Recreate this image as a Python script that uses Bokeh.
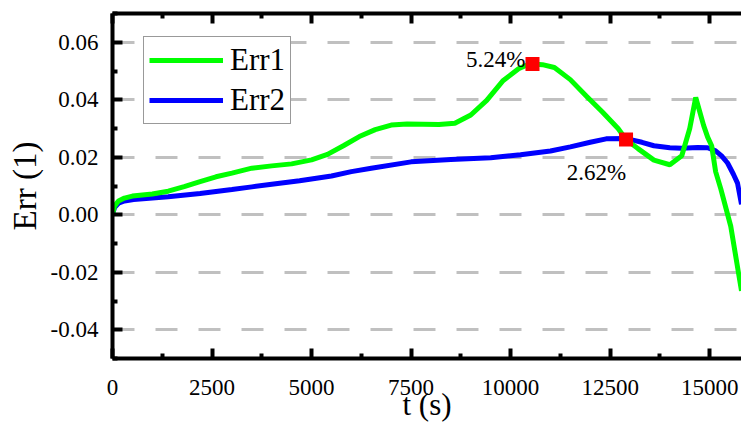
from bokeh.plotting import figure
from bokeh.models import (ColumnDataSource, FixedTicker, LinearAxis, Legend, LegendItem,
                          NumeralTickFormatter, CustomJSTickFormatter)
from bokeh.core.properties import value
from bokeh.embed import file_html
from bokeh.resources import INLINE

# ---- data ----
t1 = [0, 50, 150, 300, 500, 1000, 1400, 1800, 2200, 2600, 3000, 3500, 4000, 4500, 5000,
      5400, 5800, 6200, 6600, 7000, 7400, 7800, 8200, 8600, 9000, 9400, 9800, 10200,
      10400, 10550, 10800, 11100, 11500, 11900, 12300, 12700, 12900, 13200, 13600, 14000,
      14300, 14500, 14650, 14850, 14950, 15050, 15150, 15280, 15530, 15800]
err1 = [0.0, 0.0030, 0.0048, 0.0058, 0.0065, 0.0072, 0.0082, 0.0098, 0.0115, 0.0132,
        0.0145, 0.0162, 0.0170, 0.0177, 0.0191, 0.0210, 0.0240, 0.0272, 0.0296, 0.0312,
        0.0316, 0.0315, 0.0314, 0.0318, 0.0347, 0.0398, 0.0465, 0.0508, 0.0520, 0.0524,
        0.0522, 0.0512, 0.0470, 0.0413, 0.0358, 0.0300, 0.0262, 0.0230, 0.0190, 0.0174,
        0.0205, 0.0300, 0.0408, 0.0310, 0.0270, 0.0240, 0.0150, 0.0090, -0.0040, -0.0265]

t2 = [0, 50, 150, 300, 530, 1400, 2200, 3000, 3500, 4000, 4700, 5500, 6000, 6500, 7500,
      8500, 9500, 10250, 11000, 11500, 12000, 12400, 12900, 13300, 13600, 14000, 14300,
      14700, 14950, 15150, 15300, 15450, 15600, 15700, 15800]
err2 = [0.0, 0.0025, 0.0040, 0.0048, 0.0053, 0.0063, 0.0074, 0.0088, 0.0097, 0.0106,
        0.0118, 0.0135, 0.0150, 0.0162, 0.0184, 0.0192, 0.0198, 0.0209, 0.0222, 0.0236,
        0.0252, 0.0264, 0.0265, 0.0252, 0.0240, 0.0233, 0.0231, 0.0234, 0.0233, 0.0222,
        0.0205, 0.0180, 0.0140, 0.0110, 0.0036]

mark_t = [10550, 12900]
mark_v = [0.0524, 0.0262]
mark_labels = ["5.24%", "2.62%"]

x_ticks = [0, 2500, 5000, 7500, 10000, 12500, 15000]
x_minor = [1250, 3750, 6250, 8750, 11250, 13750]
y_ticks = [-0.04, -0.02, 0.0, 0.02, 0.04, 0.06]
y_minor = [-0.05, -0.03, -0.01, 0.01, 0.03, 0.05, 0.07]

FONT = "Liberation Serif"

p = figure(width=741, height=424, x_range=(0, 15800), y_range=(-0.05, 0.07),
           output_backend="svg", toolbar_location=None,
           min_border_left=112, min_border_right=0, min_border_top=13, min_border_bottom=64)
p.outline_line_color = None
p.background_fill_color = "white"
p.border_fill_color = "white"

xt = FixedTicker(ticks=x_ticks, minor_ticks=x_minor)
yt = FixedTicker(ticks=y_ticks, minor_ticks=y_minor)

def style_axis(ax):
    ax.axis_line_width = 4
    ax.axis_line_color = "black"
    ax.major_tick_in = 10
    ax.major_tick_out = 0
    ax.major_tick_line_width = 4
    ax.minor_tick_in = 5
    ax.minor_tick_out = 0
    ax.minor_tick_line_width = 4
    ax.major_label_text_font = FONT
    ax.major_label_text_font_size = "23px"
    ax.major_label_text_color = "black"
    ax.axis_label_text_font = FONT
    ax.axis_label_text_font_size = "31px"
    ax.axis_label_text_font_style = "normal"
    ax.axis_label_text_color = "black"

xa = p.xaxis[0]
xa.ticker = xt
style_axis(xa)
xa.axis_label = "t (s)"
xa.major_label_standoff = 21
xa.axis_label_standoff = -11

ya = p.yaxis[0]
ya.ticker = yt
ya.formatter = NumeralTickFormatter(format="0.00")
style_axis(ya)
ya.axis_label = "Err (1)"
ya.axis_label_text_font_size = "33px"
ya.major_label_standoff = 14
ya.axis_label_standoff = 5

top = LinearAxis(ticker=xt, formatter=CustomJSTickFormatter(code="return ''"))
style_axis(top)
top.major_label_standoff = 0
p.add_layout(top, "above")

p.xgrid.visible = False
p.ygrid.ticker = yt
p.ygrid.grid_line_color = "#c0c0c0"
p.ygrid.grid_line_width = 3
p.ygrid.grid_line_dash = "22 21"

s1 = ColumnDataSource(dict(t=t1, v=err1))
s2 = ColumnDataSource(dict(t=t2, v=err2))
r2 = p.line("t", "v", source=s2, line_color="#0000ff", line_width=5)
r1 = p.line("t", "v", source=s1, line_color="#00ff00", line_width=5)

sm = ColumnDataSource(dict(t=mark_t, v=mark_v))
p.scatter("t", "v", source=sm, marker="square", size=14, fill_color="#ff0000", line_color=None)

ms1 = ColumnDataSource(dict(t=mark_t[:1], v=mark_v[:1], lab=mark_labels[:1]))
ms2 = ColumnDataSource(dict(t=mark_t[1:], v=mark_v[1:], lab=mark_labels[1:]))
p.text("t", "v", text="lab", source=ms1, text_font=value(FONT), text_font_size="23px",
       text_align="right", text_baseline="alphabetic", x_offset=-7, y_offset=-5, text_color="black")
p.text("t", "v", text="lab", source=ms2, text_font=value(FONT), text_font_size="23px",
       text_align="right", text_baseline="alphabetic", x_offset=0, y_offset=33, text_color="black")

legend = Legend(items=[LegendItem(label="Err1", renderers=[r1]),
                       LegendItem(label="Err2", renderers=[r2])],
                location=(31, 234))
legend.label_text_font = FONT
legend.label_text_font_size = "31px"
legend.label_text_color = "black"
legend.glyph_width = 74
legend.glyph_height = 36
legend.label_height = 36
legend.spacing = 4
legend.padding = 5
legend.margin = 0
legend.label_standoff = 7
legend.border_line_color = "#333333"
legend.border_line_width = 1
legend.background_fill_alpha = 1
p.add_layout(legend)

open("out.html", "w").write(file_html(p, INLINE))
